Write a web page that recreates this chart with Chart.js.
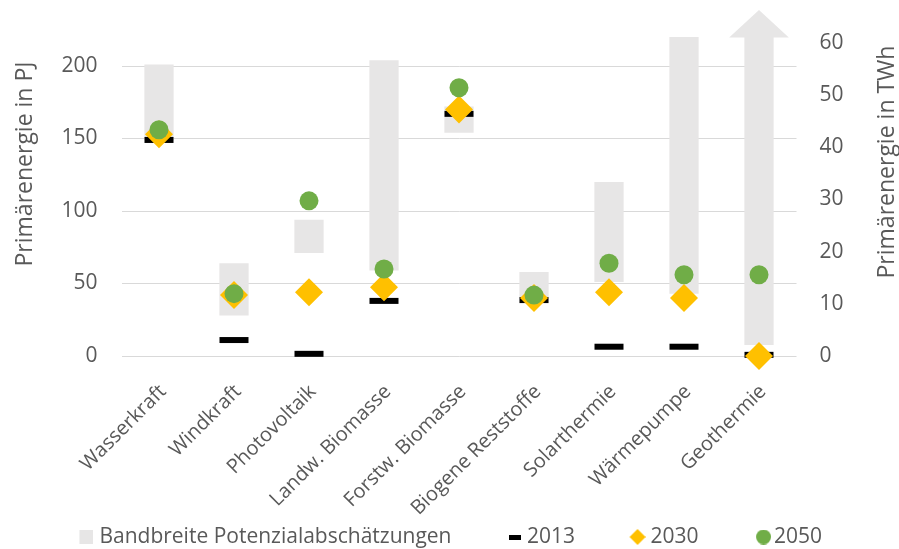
<!DOCTYPE html>
<html>
<head>
<meta charset="utf-8">
<script src="https://cdn.jsdelivr.net/npm/chart.js@4.4.1/dist/chart.umd.min.js"></script>
<style>
  html, body { margin: 0; padding: 0; background: #ffffff; }
  #wrap { width: 899px; height: 549px; }
</style>
</head>
<body>
<div id="wrap"><canvas id="c" width="899" height="549"></canvas></div>
<script>
// Energy sources
const categories = ['Wasserkraft', 'Windkraft', 'Photovoltaik', 'Landw. Biomasse', 'Forstw. Biomasse',
                    'Biogene Reststoffe', 'Solarthermie', 'Wärmepumpe', 'Geothermie'];

// Range of potential estimates in PJ (low / high end)
const bandLow  = [149, 28, 71, 59, 154, 36, 51, 43, 7.6];
const bandHigh = [201, 64, 94, 204, 172, 58, 120, 220, 220];
// the geothermal range is open towards the top
const bandOpenTop = [false, false, false, false, false, false, false, false, true];

// Primary energy in PJ per year
const values2013 = [149, 11, 1.5, 38, 167, 38.6, 6.4, 6.4, 0.8];
const values2030 = [153, 42, 44, 47.5, 170, 40, 44, 40, 0];
const values2050 = [156, 43, 107, 60, 185, 42, 64, 56, 56];

// Axis ranges
const pjMax = 220;
const pjStep = 50;
const twhPerPj = 1 / 3.6;
const twhStep = 10;

const TEXT = '#595959';
const FONT = 'Open Sans';
const BAND = '#e7e6e6';
const C2030 = '#ffc000';
const C2050 = '#70ad47';

// Legend symbols: drawn right-aligned inside a transparent canvas so that
// they sit close to their text
function markerCanvas(w, h, draw) {
  const c = document.createElement('canvas');
  c.width = w; c.height = h;
  draw(c.getContext('2d'), w, h);
  return c;
}
const legendMarkers = [
  markerCanvas(21, 14, (g, w, h) => { g.fillStyle = BAND; g.fillRect(w - 14, 0, 14, 14); }),
  markerCanvas(21, 5, (g, w, h) => { g.fillStyle = '#000'; g.fillRect(w - 12, 0, 12, 5); }),
  markerCanvas(23, 16, (g, w, h) => {
    const l = w - 16;
    g.fillStyle = C2030; g.beginPath();
    g.moveTo(l + 8, 0); g.lineTo(l + 16, 8); g.lineTo(l + 8, 16); g.lineTo(l, 8); g.closePath(); g.fill();
  }),
  markerCanvas(27, 15, (g, w, h) => {
    g.fillStyle = C2050; g.beginPath(); g.arc(w - 7.5, 7.5, 7.5, 0, Math.PI * 2); g.fill();
  })
];

// Arrow head on top of open-ended ranges
const arrowHeads = {
  id: 'arrowHeads',
  afterDatasetsDraw(chart) {
    const meta = chart.getDatasetMeta(0);
    const ctx = chart.ctx;
    meta.data.forEach((el, i) => {
      if (!bandOpenTop[i]) return;
      const half = el.width * 1.02;
      const baseY = el.y;
      ctx.save();
      ctx.fillStyle = BAND;
      ctx.beginPath();
      ctx.moveTo(el.x - half, baseY + 0.5);
      ctx.lineTo(el.x + half, baseY + 0.5);
      ctx.lineTo(el.x, baseY - 27);
      ctx.closePath();
      ctx.fill();
      ctx.restore();
    });
  }
};

// Both axis titles read bottom-to-top
const axisTitles = {
  id: 'axisTitles',
  afterDraw(chart) {
    const ctx = chart.ctx;
    const { y, y2 } = chart.scales;
    ctx.save();
    ctx.fillStyle = TEXT;
    ctx.font = '23px "' + FONT + '"';
    ctx.textAlign = 'center';
    ctx.textBaseline = 'middle';
    [[y.left + 25, 164, 'Primärenergie in PJ'], [y2.right - 12, 162, 'Primärenergie in TWh']].forEach(([x, cy, t]) => {
      ctx.save();
      ctx.translate(x, cy);
      ctx.rotate(-Math.PI / 2);
      ctx.fillText(t, 0, 0);
      ctx.restore();
    });
    ctx.restore();
  }
};

// The slanted category labels reach down next to the legend
const labelRoom = {
  id: 'labelRoom',
  afterLayout(chart) {
    chart.scales.x.bottom = chart.height;
  }
};

Chart.defaults.font.family = FONT;
Chart.defaults.color = TEXT;

new Chart(document.getElementById('c'), {
  data: {
    labels: categories,
    datasets: [
      {
        type: 'bar',
        label: 'Bandbreite Potenzialabschätzungen',
        data: categories.map((_, i) => [bandLow[i], bandHigh[i]]),
        backgroundColor: BAND,
        borderWidth: 0,
        barPercentage: 0.39,
        categoryPercentage: 1,
        yAxisID: 'y',
        order: 4
      },
      {
        type: 'line',
        label: '2013',
        data: values2013,
        showLine: false,
        pointStyle: 'line',
        pointRadius: 14.5,
        pointBorderWidth: 6,
        pointBorderColor: '#000',
        borderColor: '#000',
        yAxisID: 'y',
        clip: false,
        order: 3
      },
      {
        type: 'line',
        label: '2030',
        data: values2030,
        showLine: false,
        pointStyle: 'rectRot',
        pointRadius: 14,
        pointBorderWidth: 0,
        pointBackgroundColor: C2030,
        borderColor: C2030,
        yAxisID: 'y',
        clip: false,
        order: 2
      },
      {
        type: 'line',
        label: '2050',
        data: values2050,
        showLine: false,
        pointStyle: 'circle',
        pointRadius: 9.5,
        pointBorderWidth: 0,
        pointBackgroundColor: C2050,
        borderColor: C2050,
        yAxisID: 'y',
        clip: false,
        order: 1
      }
    ]
  },
  options: {
    responsive: false,
    animation: false,
    devicePixelRatio: 1,
    layout: { padding: { top: 37, left: 0, right: 0, bottom: -8.5 } },
    plugins: {
      tooltip: { enabled: false },
      legend: {
        position: 'bottom',
        labels: {
          usePointStyle: true,
          boxWidth: 12,
          boxHeight: 14,
          padding: 53,
          color: TEXT,
          font: { size: 21 },
          generateLabels: chart => chart.data.datasets.map((ds, i) => ({
            text: ds.label,
            pointStyle: legendMarkers[i],
            fillStyle: 'transparent',
            strokeStyle: 'transparent',
            lineWidth: 0,
            fontColor: TEXT,
            datasetIndex: i,
            hidden: false
          }))
        }
      }
    },
    scales: {
      x: {
        grid: { display: false },
        border: { display: false },
        ticks: {
          autoSkip: false,
          minRotation: 45,
          maxRotation: 45,
          padding: 16,
          labelOffset: 4,
          color: TEXT,
          font: { size: 20 }
        },
        afterFit: s => { s.height = 117.5; }
      },
      y: {
        position: 'left',
        min: 0,
        max: pjMax,
        grid: { color: '#d9d9d9', lineWidth: 1, drawTicks: false },
        border: { display: false },
        ticks: { stepSize: pjStep, includeBounds: false, padding: 24, color: TEXT, font: { size: 21 } },
        afterFit: s => { s.width = 121.5; }
      },
      y2: {
        position: 'right',
        min: 0,
        max: pjMax * twhPerPj,
        grid: { display: false, drawTicks: false },
        border: { display: false },
        ticks: { stepSize: twhStep, includeBounds: false, padding: 23, color: TEXT, font: { size: 21 } },
        afterFit: s => { s.width = 102.5; }
      }
    }
  },
  plugins: [arrowHeads, axisTitles, labelRoom]
});
</script>
</body>
</html>
